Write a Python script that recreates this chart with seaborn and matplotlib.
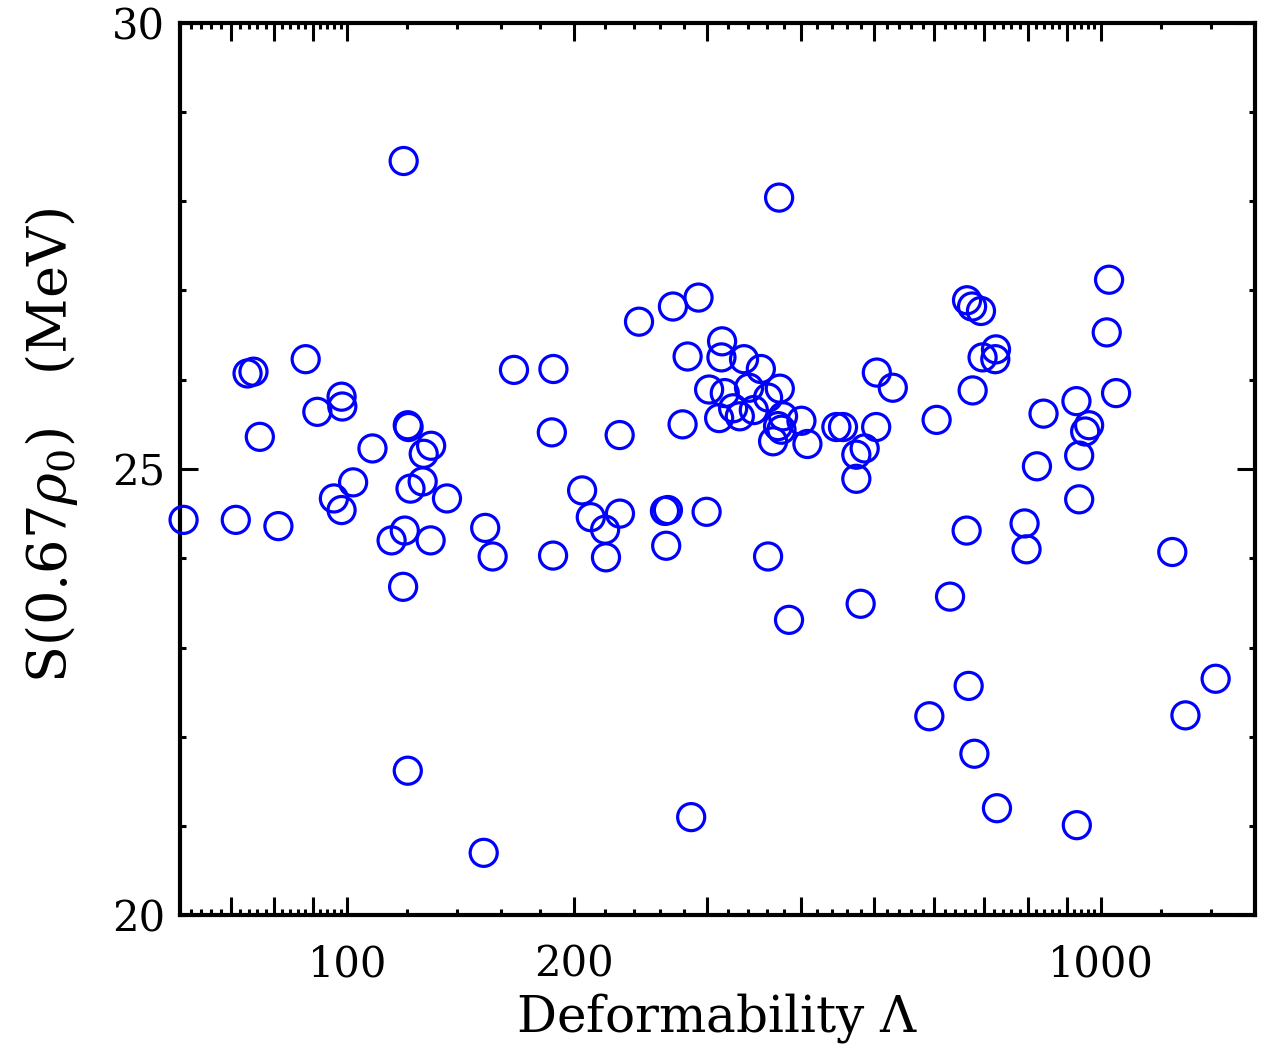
import numpy as np
import pandas as pd
import matplotlib
matplotlib.use("Agg")
import matplotlib.pyplot as plt
import seaborn as sns
from matplotlib.ticker import FixedLocator, FixedFormatter, NullFormatter

# Data
deformability = [
    60.65, 71.14, 73.74, 75.09, 76.56, 81.03, 88.07, 91.26, 98.28, 98.49,
    96.0, 98.28, 101.8, 108.0, 120.3, 120.6, 126.3, 129.2, 121.3, 125.9,
    135.6, 114.5, 119.2, 129.0, 118.6, 118.8, 120.3, 151.7, 152.4, 155.9,
    166.4, 187.7, 186.8, 187.5, 204.9, 210.4, 219.8, 220.4, 230.0, 229.8,
    243.8, 263.9, 266.3, 264.9, 270.4, 278.5, 282.8, 285.9, 292.4, 299.7,
    314.2, 313.6, 336.0, 353.7, 302.0, 316.8, 341.2, 361.6, 374.8, 311.4,
    325.0, 331.7, 346.2, 378.5, 372.8, 376.7, 367.2, 400.4, 407.8, 445.5,
    454.6, 504.1, 529.3, 503.1, 473.5, 485.7, 473.5, 361.6, 385.5, 479.8,
    374.0, 664.0, 674.3, 692.9, 725.4, 723.9, 696.3, 675.5, 605.1, 1024.7,
    1017.4, 1046.9, 927.5, 838.8, 964.1, 952.5, 935.3, 822.1, 935.3, 663.2,
    791.6, 796.4, 1243.0, 630.4, 667.3, 591.8, 679.1, 727.6, 928.6, 1419.0,
    1294.0,
]
symmetry_energy = [
    24.43, 24.43, 26.07, 26.09, 25.36, 24.36, 26.23, 25.64, 25.81, 25.70,
    24.67, 24.54, 24.85, 25.23, 25.49, 25.47, 25.17, 25.26, 24.78, 24.86,
    24.67, 24.20, 24.31, 24.20, 23.68, 28.45, 21.62, 20.70, 24.34, 24.02,
    26.11, 26.12, 25.41, 24.03, 24.76, 24.46, 24.32, 24.01, 24.50, 25.38,
    26.65, 24.53, 24.54, 24.14, 26.82, 25.50, 26.26, 21.10, 26.92, 24.52,
    26.43, 26.25, 26.23, 26.12, 25.89, 25.85, 25.91, 25.80, 25.90, 25.57,
    25.68, 25.59, 25.66, 25.59, 25.48, 25.44, 25.31, 25.54, 25.28, 25.47,
    25.47, 26.08, 25.91, 25.47, 25.16, 25.23, 24.89, 24.02, 23.31, 23.49,
    28.04, 26.89, 26.82, 26.77, 26.34, 26.23, 26.25, 25.88, 25.55, 27.12,
    26.53, 25.85, 25.76, 25.62, 25.49, 25.42, 25.15, 25.03, 24.66, 24.31,
    24.39, 24.10, 24.07, 23.57, 22.57, 22.23, 21.81, 21.20, 21.01, 22.65,
    22.24,
]

x_major = [70, 80, 90, 100, 200, 300, 400, 500, 600, 700, 800, 900, 1000]
x_major_labels = ["", "", "", "100", "200", "", "", "", "", "", "", "", "1000"]
x_minor = ([v for v in range(62, 100, 2) if v % 10 != 0] + [120, 140, 160, 180]
           + [v for v in range(220, 1000, 20) if v % 100 != 0] + [1200, 1400])
y_major = [20, 25, 30]
y_minor = [21, 22, 23, 24, 26, 27, 28, 29]

df = pd.DataFrame({"Lambda": deformability, "S": symmetry_energy})

sns.set_style("ticks")
plt.rcParams["font.family"] = ["DejaVu Serif", "DejaVu Sans"]
plt.rcParams["mathtext.fontset"] = "dejavuserif"
for k in ["text.color", "axes.labelcolor", "xtick.color", "ytick.color",
          "axes.edgecolor"]:
    plt.rcParams[k] = "black"

fig = plt.figure(figsize=(12.76, 10.48), dpi=100)
ax = fig.add_axes([0.1411, 0.1266, 0.8424, 0.8518])

sns.scatterplot(data=df, x="Lambda", y="S", ax=ax, marker="o", s=380,
                facecolor="none", edgecolor="#0000ff", linewidth=2.3,
                legend=False, clip_on=False, zorder=3)

ax.set_xscale("log")
ax.set_xlim(60, 1600)
ax.set_ylim(20, 30)

ax.xaxis.set_major_locator(FixedLocator(x_major))
ax.xaxis.set_major_formatter(FixedFormatter(x_major_labels))
ax.xaxis.set_minor_locator(FixedLocator(x_minor))
ax.xaxis.set_minor_formatter(NullFormatter())
ax.yaxis.set_major_locator(FixedLocator(y_major))
ax.yaxis.set_minor_locator(FixedLocator(y_minor))

ax.tick_params(which="both", direction="in", top=True, right=True,
               width=2.2, color="black")
ax.tick_params(which="major", length=13, labelsize=30)
ax.tick_params(axis="x", which="major", pad=20)
ax.tick_params(axis="y", which="major", pad=11)
ax.tick_params(which="minor", length=4.5)

for sp in ax.spines.values():
    sp.set_linewidth(3.0)
    sp.set_color("black")

ax.set_xlabel(r"Deformability $\Lambda$", fontsize=36)
ax.set_ylabel(r"S(0.67$\rho_0$)   (MeV)", fontsize=39)
ax.xaxis.set_label_coords(0.5, -0.085)
ax.yaxis.set_label_coords(-0.093, 0.526)

fig.savefig("out.png", dpi=100, facecolor="white")
